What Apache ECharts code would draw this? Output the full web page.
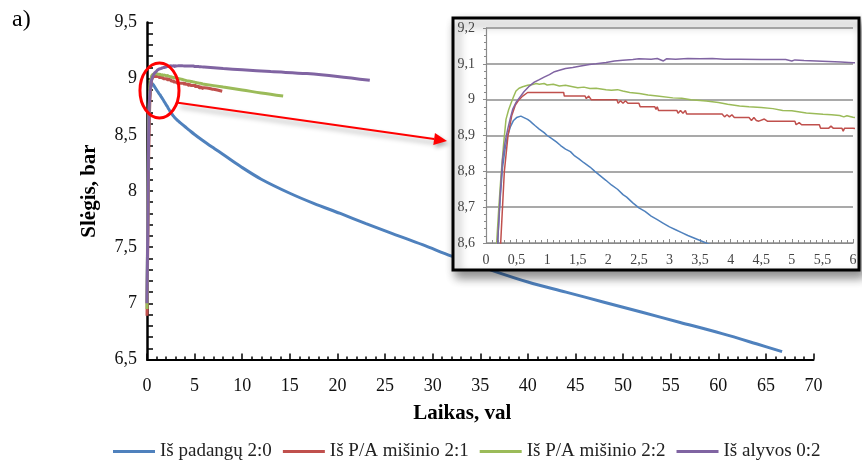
<!DOCTYPE html>
<html>
<head>
<meta charset="utf-8">
<title>Slėgis</title>
<script src="https://cdn.jsdelivr.net/npm/echarts@6/dist/echarts.min.js"></script>
<style>
  html, body { margin: 0; padding: 0; background: #fff; }
  #chart { width: 862px; height: 460px; }
</style>
</head>
<body>
<div id="chart"></div>
<script>
// Pressure (bar) against time (h), four fuel samples
const seriesNames = ['Iš padangų 2:0', 'Iš P/A mišinio 2:1', 'Iš P/A mišinio 2:2', 'Iš alyvos 0:2'];

const padanguData = [
  [0, 7.0], [0.1, 7.85], [0.16, 8.4], [0.19, 8.6], [0.23, 8.72], [0.27, 8.81], [0.31, 8.86],
  [0.354, 8.9], [0.4, 8.925], [0.45, 8.942], [0.5, 8.95], [0.57, 8.954], [0.62, 8.95], [0.68, 8.945],
  [0.72, 8.94], [0.76, 8.934], [0.8, 8.928], [0.87, 8.918], [0.95, 8.908], [1.0, 8.9], [1.07, 8.892],
  [1.15, 8.882], [1.22, 8.872], [1.3, 8.862], [1.38, 8.855], [1.45, 8.843], [1.52, 8.835], [1.6, 8.824],
  [1.7, 8.812], [1.78, 8.8], [1.85, 8.79], [1.96, 8.775], [2.05, 8.762], [2.15, 8.75], [2.24, 8.735],
  [2.3, 8.728], [2.4, 8.712], [2.5, 8.698], [2.6, 8.688], [2.7, 8.675], [2.8, 8.665], [2.9, 8.655],
  [3.0, 8.645], [3.1, 8.637], [3.2, 8.629], [3.3, 8.621], [3.4, 8.614], [3.5, 8.607], [3.6, 8.6],
  [4.0, 8.572], [4.5, 8.537], [5.0, 8.503], [5.6, 8.465], [6.3, 8.423], [7.1, 8.377], [8.0, 8.325],
  [9.8, 8.22], [12, 8.105], [15, 7.98], [17.5, 7.89], [20.3, 7.8], [23, 7.71], [25.5, 7.63], [29, 7.52],
  [32, 7.42], [36, 7.3], [40, 7.19], [44, 7.1], [48, 7.01], [52, 6.92], [56, 6.83], [60.4, 6.73],
  [64, 6.64], [66.7, 6.57]
];

const misinys21Data = [
  [0, 6.89], [0.1, 7.7], [0.18, 8.35], [0.24, 8.6], [0.3, 8.8], [0.36, 8.9], [0.42, 8.955], [0.48, 8.985],
  [0.54, 9.0], [0.6, 9.01], [0.68, 9.02], [1.27, 9.02], [1.28, 9.01], [1.62, 9.01], [1.64, 9.003],
  [1.68, 9.01], [1.72, 9.0], [2.14, 9.0], [2.16, 8.99], [2.2, 8.997], [2.24, 8.99], [2.28, 8.997],
  [2.32, 8.99], [2.5, 8.99], [2.52, 8.98], [2.76, 8.98], [2.78, 8.973], [2.8, 8.98], [2.82, 8.97],
  [3.12, 8.97], [3.14, 8.962], [3.18, 8.97], [3.22, 8.962], [3.26, 8.97], [3.28, 8.96], [3.86, 8.96],
  [3.9, 8.952], [3.94, 8.958], [3.98, 8.952], [4.02, 8.958], [4.06, 8.95], [4.3, 8.95], [4.34, 8.942],
  [4.38, 8.95], [4.42, 8.942], [4.46, 8.94], [4.55, 8.946], [4.6, 8.94], [5.05, 8.94], [5.07, 8.93],
  [5.12, 8.936], [5.16, 8.93], [5.45, 8.93], [5.47, 8.92], [5.6, 8.92], [5.64, 8.926], [5.68, 8.92],
  [5.82, 8.92], [5.84, 8.912], [5.86, 8.92], [6.0, 8.92], [7.0, 8.905], [7.9, 8.888]
];

const misinys22Data = [
  [0, 6.95], [0.08, 7.8], [0.14, 8.35], [0.174, 8.6], [0.21, 8.7], [0.245, 8.787], [0.29, 8.88],
  [0.327, 8.945], [0.37, 8.972], [0.409, 8.99], [0.45, 9.008], [0.49, 9.024], [0.54, 9.032], [0.6, 9.036],
  [0.68, 9.04], [0.763, 9.042], [0.82, 9.045], [0.87, 9.043], [0.95, 9.045], [1.0, 9.041], [1.1, 9.043],
  [1.2, 9.038], [1.3, 9.04], [1.418, 9.036], [1.5, 9.033], [1.6, 9.035], [1.7, 9.031], [1.8, 9.032],
  [1.963, 9.028], [2.05, 9.026], [2.15, 9.028], [2.236, 9.024], [2.35, 9.02], [2.509, 9.017],
  [2.65, 9.013], [2.8, 9.01], [3.055, 9.005], [3.2, 9.004], [3.35, 9.0], [3.6, 8.996], [3.8, 8.992],
  [3.95, 8.987], [4.146, 8.982], [4.3, 8.98], [4.5, 8.978], [4.691, 8.975], [4.85, 8.97], [5.0, 8.969],
  [5.237, 8.963], [5.4, 8.961], [5.51, 8.959], [5.65, 8.958], [5.782, 8.956], [5.85, 8.952], [5.9, 8.955],
  [6.0, 8.951], [8.0, 8.925], [10.0, 8.9], [12.0, 8.872], [14.3, 8.845]
];

const alyvosData = [
  [0, 7.0], [0.1, 7.85], [0.16, 8.4], [0.19, 8.6], [0.23, 8.73], [0.27, 8.833], [0.31, 8.88],
  [0.354, 8.917], [0.4, 8.95], [0.436, 8.973], [0.49, 8.992], [0.545, 9.005], [0.62, 9.022],
  [0.709, 9.038], [0.79, 9.049], [0.872, 9.056], [0.95, 9.063], [1.036, 9.07], [1.12, 9.078], [1.2, 9.082],
  [1.3, 9.087], [1.418, 9.09], [1.55, 9.094], [1.69, 9.098], [1.8, 9.1], [1.963, 9.104], [2.1, 9.108],
  [2.236, 9.11], [2.4, 9.112], [2.5, 9.114], [2.7, 9.113], [2.8, 9.115], [2.9, 9.108], [2.95, 9.114],
  [3.1, 9.113], [3.3, 9.115], [3.5, 9.114], [3.7, 9.115], [3.9, 9.113], [4.15, 9.113], [4.5, 9.112],
  [4.9, 9.112], [5.0, 9.108], [5.05, 9.111], [5.2, 9.109], [5.5, 9.107], [5.8, 9.105], [6.0, 9.103],
  [8.0, 9.09], [10.0, 9.08], [13.0, 9.063], [16.8, 9.045], [20.0, 9.02], [23.4, 8.985]
];

const seriesData = [padanguData, misinys21Data, misinys22Data, alyvosData];
const seriesColors = ['#4F81BD', '#C0504D', '#9BBB59', '#8064A2'];

// Axis ranges: full record and the zoomed first hours
const mainX = { min: 0, max: 70, step: 5 };
const mainY = { min: 6.5, max: 9.5, step: 0.5 };
const zoomX = { min: 0, max: 6, step: 0.5 };
const zoomY = { min: 8.6, max: 9.2, step: 0.1 };

const SERIF = "'Liberation Serif', 'Times New Roman', serif";
const comma = v => String(+v.toFixed(2)).replace('.', ',');

const chart = echarts.init(document.getElementById('chart'), null, { renderer: 'canvas' });

const mainGrid = { left: 147, top: 22.5, width: 666.5, height: 337 };
const zoomGrid = { left: 486, top: 28, width: 367, height: 215 };
const zoomBox = { x: 453, y: 18, width: 406, height: 252 };

const series = [];
seriesData.forEach((d, i) => {
  series.push({
    name: seriesNames[i], type: 'line', xAxisIndex: 0, yAxisIndex: 0, data: d,
    showSymbol: false, symbol: 'none', smooth: 0.35, clip: true, z: 2 + i * 0.01,
    lineStyle: { color: seriesColors[i], width: 3 }, itemStyle: { color: seriesColors[i] }
  });
});
seriesData.forEach((d, i) => {
  series.push({
    name: seriesNames[i], type: 'line', xAxisIndex: 1, yAxisIndex: 1, data: d,
    showSymbol: false, symbol: 'none', clip: true, z: 21 + i * 0.01,
    lineStyle: { color: seriesColors[i], width: 1.5 }, itemStyle: { color: seriesColors[i] }
  });
});

chart.setOption({
  animation: false,
  backgroundColor: '#fff',
  grid: [
    Object.assign({ containLabel: false }, mainGrid),
    Object.assign({ containLabel: false, z: 20 }, zoomGrid)
  ],
  xAxis: [
    {
      type: 'value', gridIndex: 0, min: mainX.min, max: mainX.max, interval: mainX.step,
      name: 'Laikas, val', nameLocation: 'middle', nameGap: 44,
      nameTextStyle: { fontFamily: SERIF, fontSize: 21, fontWeight: 'bold', color: '#000', padding: [0, 36, 0, 0] },
      axisLine: { show: true, onZero: false, lineStyle: { color: '#000', width: 2 } },
      axisTick: { show: true, inside: true, length: 6, lineStyle: { color: '#000', width: 1.5 } },
      minorTick: { show: true, splitNumber: 5, length: 3, lineStyle: { color: '#000', width: 1.5 } },
      axisLabel: { margin: 18, fontFamily: SERIF, fontSize: 18, color: '#111', formatter: comma },
      splitLine: { show: false }
    },
    {
      type: 'value', gridIndex: 1, min: zoomX.min, max: zoomX.max, interval: zoomX.step, z: 20,
      axisLine: { show: true, onZero: false, lineStyle: { color: '#8a8a8a', width: 1.2 } },
      axisTick: { show: true, inside: true, length: 4, lineStyle: { color: '#8a8a8a', width: 1 } },
      minorTick: { show: true, splitNumber: 5, length: 3, lineStyle: { color: '#8a8a8a', width: 1 } },
      axisLabel: { margin: 10, fontFamily: SERIF, fontSize: 14, color: '#444', formatter: comma },
      splitLine: { show: false }
    }
  ],
  yAxis: [
    {
      type: 'value', gridIndex: 0, min: mainY.min, max: mainY.max, interval: mainY.step,
      name: 'Slėgis, bar', nameLocation: 'middle', nameGap: 47,
      nameTextStyle: { fontFamily: SERIF, fontSize: 21, fontWeight: 'bold', color: '#000' },
      axisLine: { show: true, onZero: false, lineStyle: { color: '#000', width: 2.5 } },
      axisTick: { show: true, inside: true, length: 6, lineStyle: { color: '#000', width: 1.5 } },
      minorTick: { show: true, splitNumber: 5, length: 6, lineStyle: { color: '#000', width: 1.5 } },
      axisLabel: { margin: 10, fontFamily: SERIF, fontSize: 18, color: '#111', formatter: comma },
      splitLine: { show: false }
    },
    {
      type: 'value', gridIndex: 1, min: zoomY.min, max: zoomY.max, interval: zoomY.step, z: 20,
      axisLine: { show: true, onZero: false, lineStyle: { color: '#8a8a8a', width: 1.2 } },
      axisTick: { show: true, inside: false, length: 3, lineStyle: { color: '#8a8a8a', width: 1 } },
      minorTick: { show: true, splitNumber: 5, length: 2, lineStyle: { color: '#8a8a8a', width: 1 } },
      axisLabel: { margin: 11, fontFamily: SERIF, fontSize: 14, color: '#444', formatter: comma },
      splitLine: { show: true, lineStyle: { color: '#8c8c8c', width: 1.5 } }
    }
  ],
  legend: {
    data: seriesNames, left: 108, top: 437, icon: 'rect', itemWidth: 42, itemHeight: 3, itemGap: 11,
    textStyle: { fontFamily: SERIF, fontSize: 19, color: '#222' }
  },
  graphic: [
    { type: 'text', left: 12, top: 8, z: 30,
      style: { text: 'a)', font: '24px ' + SERIF, fill: '#000' } },
    { type: 'rect', id: 'zoomBox', z: 10,
      shape: zoomBox,
      style: { fill: '#fff', stroke: '#000', lineWidth: 3,
               shadowBlur: 10, shadowOffsetX: 4, shadowOffsetY: 6, shadowColor: 'rgba(0,0,0,0.45)' } }
  ],
  series: series
});

// Red ellipse round the first hours of the main plot and an arrow to the zoomed box
const focus = { t: 1.31, p: 8.895, dt: 2.05, dp: 0.245 };
const c = chart.convertToPixel({ gridIndex: 0 }, [focus.t, focus.p]);
const e = chart.convertToPixel({ gridIndex: 0 }, [focus.t + focus.dt, focus.p - focus.dp]);
const rx = e[0] - c[0], ry = e[1] - c[1];
const start = [c[0] + rx * 0.95, c[1] + ry * 0.45];
const target = chart.convertToPixel({ gridIndex: 1 }, [0, 8.885]);
const tip = [zoomBox.x - 6, target[1]];
const ang = Math.atan2(tip[1] - start[1], tip[0] - start[0]);
const headLen = 13, headHalf = 6;
const base = [tip[0] - headLen * Math.cos(ang), tip[1] - headLen * Math.sin(ang)];
const nx = -Math.sin(ang), ny = Math.cos(ang);

chart.setOption({
  graphic: [
    { type: 'ellipse', id: 'focusRing', z: 30,
      shape: { cx: c[0], cy: c[1], rx: rx, ry: ry },
      style: { fill: 'none', stroke: '#ff0000', lineWidth: 3 } },
    { type: 'line', id: 'arrowShaft', z: 29,
      shape: { x1: start[0], y1: start[1], x2: base[0], y2: base[1] },
      style: { stroke: '#ff0000', lineWidth: 2,
               shadowBlur: 5, shadowOffsetX: 2, shadowOffsetY: 4, shadowColor: 'rgba(0,0,0,0.35)' } },
    { type: 'polygon', id: 'arrowHead', z: 29,
      shape: { points: [tip, [base[0] + nx * headHalf, base[1] + ny * headHalf], [base[0] - nx * headHalf, base[1] - ny * headHalf]] },
      style: { fill: '#ff0000', shadowBlur: 4, shadowOffsetX: 2, shadowOffsetY: 3, shadowColor: 'rgba(0,0,0,0.3)' } }
  ]
});
</script>
</body>
</html>
